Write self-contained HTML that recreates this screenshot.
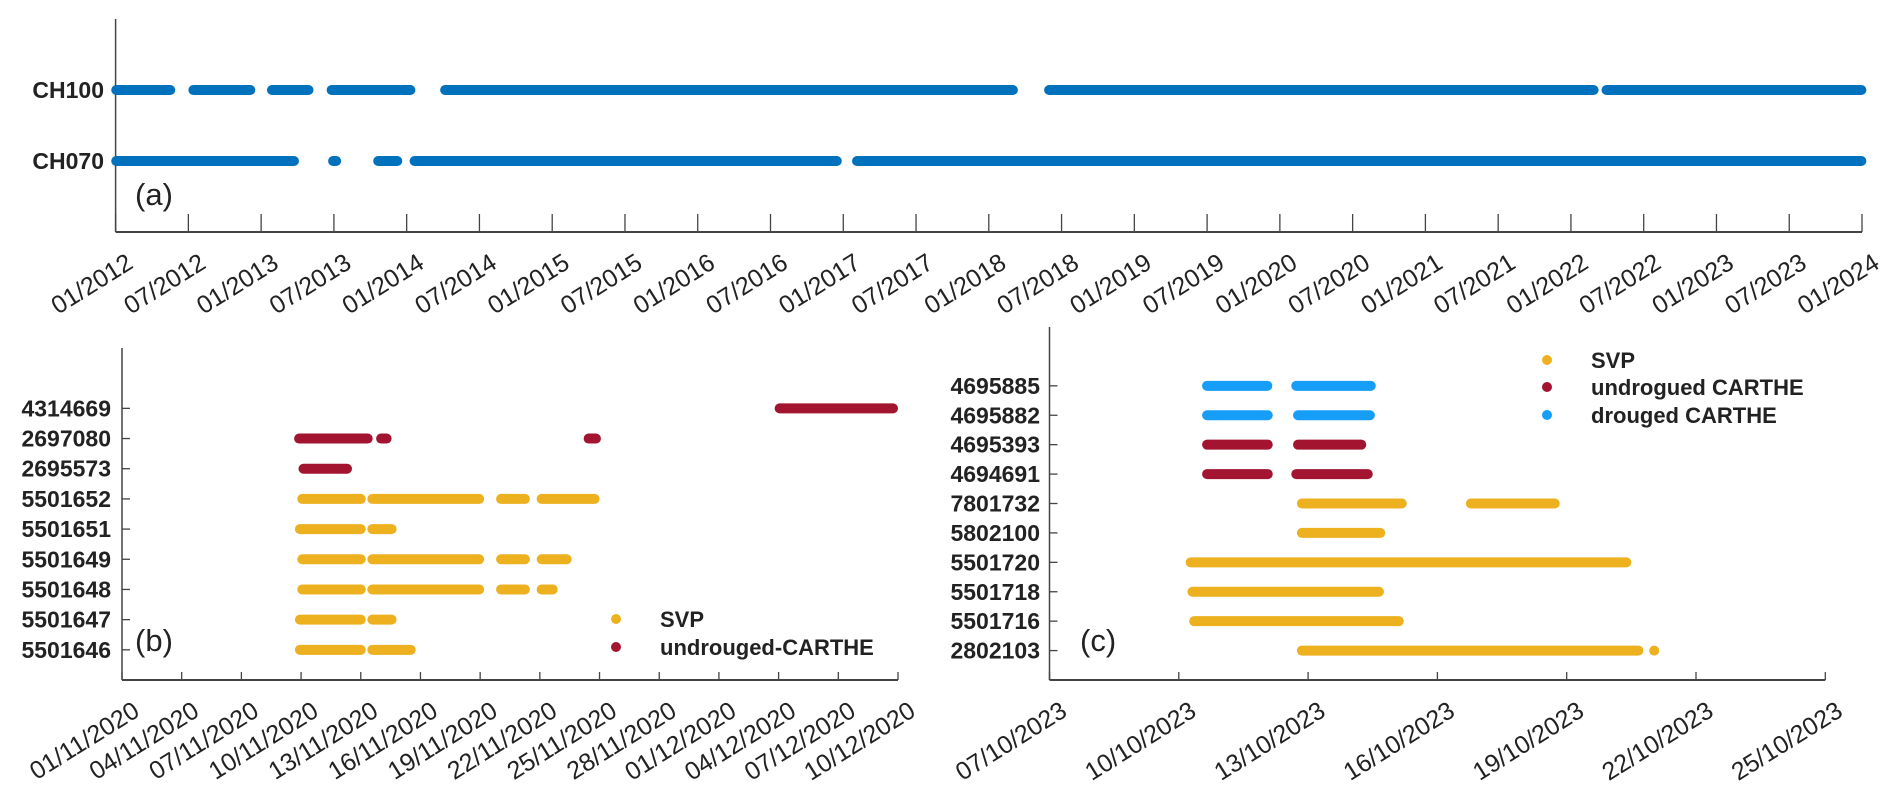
<!DOCTYPE html>
<html><head><meta charset="utf-8"><style>
html,body{margin:0;padding:0;background:#fff}
svg{display:block}
text{font-family:"Liberation Sans",Arial,sans-serif;fill:#222}
.yl{font-size:23px;font-weight:bold}
.tl{font-size:25px}
.lg{font-size:22px;font-weight:bold}
.pl{font-size:31px}
</style></head><body>
<svg id="fig" width="1892" height="812" viewBox="0 0 1892 812" xmlns="http://www.w3.org/2000/svg"></svg>
<script>
// ---- Panel (a) data (decimal years, segment extents) ----
const aRows = ["CH070","CH100"];
const aTicks = ["01/2012","07/2012","01/2013","07/2013","01/2014","07/2014","01/2015","07/2015","01/2016","07/2016","01/2017","07/2017","01/2018","07/2018","01/2019","07/2019","01/2020","07/2020","01/2021","07/2021","01/2022","07/2022","01/2023","07/2023","01/2024"];
const aCH100 = [[2011.97,2012.41],[2012.5,2012.96],[2013.04,2013.36],[2013.45,2014.06],[2014.23,2018.2],[2018.38,2022.19],[2022.21,2024.03]];
const aCH070 = [[2011.97,2013.26],[2013.46,2013.55],[2013.77,2013.97],[2014.02,2016.99],[2017.06,2024.03]];

// ---- Panel (b) data (days since 01/11/2020) ----
const bRows = ["5501646","5501647","5501648","5501649","5501651","5501652","2695573","2697080","4314669"];
const bTicks = ["01/11/2020","04/11/2020","07/11/2020","10/11/2020","13/11/2020","16/11/2020","19/11/2020","22/11/2020","25/11/2020","28/11/2020","01/12/2020","04/12/2020","07/12/2020","10/12/2020"];
const bType = ["svp","svp","svp","svp","svp","svp","und","und","und"];
const bSegs = [
 [[8.69,12.25],[12.33,14.76]],
 [[8.69,12.25],[12.33,13.8]],
 [[8.81,12.25],[12.33,18.2],[18.8,20.5],[20.84,21.9]],
 [[8.81,12.25],[12.33,18.2],[18.8,20.5],[20.84,22.6]],
 [[8.69,12.25],[12.33,13.8]],
 [[8.81,12.25],[12.33,18.2],[18.8,20.5],[20.84,24.0]],
 [[8.87,11.56]],
 [[8.65,12.6],[12.77,13.55],[23.2,24.07]],
 [[32.8,39.0]]
];

// ---- Panel (c) data (days since 07/10/2023) ----
const cRows = ["2802103","5501716","5501718","5501720","5802100","7801732","4694691","4695393","4695882","4695885"];
const cTicks = ["07/10/2023","10/10/2023","13/10/2023","16/10/2023","19/10/2023","22/10/2023","25/10/2023"];
const cType = ["svp","svp","svp","svp","svp","svp","und","und","dro","dro"];
const cSegs = [
 [[5.74,13.78],[13.93,14.13]],
 [[3.24,8.22]],
 [[3.2,7.76]],
 [[3.16,13.5]],
 [[5.74,7.79]],
 [[5.74,8.29],[9.66,11.84]],
 [[3.54,5.18],[5.61,7.5]],
 [[3.54,5.18],[5.65,7.35]],
 [[3.54,5.18],[5.65,7.55]],
 [[3.54,5.17],[5.61,7.57]]
];

const COL = {blue:"#0072BD", svp:"#EDB120", und:"#A2142F", dro:"#169DF7"};
const NS = "http://www.w3.org/2000/svg";
const svg = document.getElementById("fig");
function mk(tag, attrs, parent, txt){
  const e = document.createElementNS(NS, tag);
  for (const k in attrs) e.setAttribute(k, attrs[k]);
  if (txt !== undefined) e.textContent = txt;
  (parent||svg).appendChild(e);
  return e;
}
const AX = "#444";
function seg(g, x1, x2, y, col, w){
  const r = w/2;
  let a = x1 + r, b = x2 - r;
  if (b < a){ const m=(x1+x2)/2; a=m; b=m; }
  const l = mk("line",{x1:a,x2:b,y1:y,y2:y,stroke:col,"stroke-width":w,"stroke-linecap":"round"},g);
  
  
}
function tickLabel(g, x, y0, s){
  const t = mk("text",{class:"tl","text-anchor":"end",transform:`translate(${x+19},${y0+35}) rotate(-32)`},g,s);
  
  
}

// ===== Panel A =====
(function(){
  const g = mk("g",{});  
  const L=115.6,R=1862,T=19,B=232, y0=2012, y1=2024;
  const xs = v => L + (v-y0)/(y1-y0)*(R-L);
  const ys = {CH070:161, CH100:90};
  mk("line",{x1:L,x2:L,y1:T,y2:B,stroke:AX,"stroke-width":1.5},g);
  mk("line",{x1:L,x2:R,y1:B,y2:B,stroke:AX,"stroke-width":2},g);
  aTicks.forEach((s,i)=>{
    const x = xs(y0 + i*0.5);
    mk("line",{x1:x,x2:x,y1:B,y2:B-18,stroke:AX,"stroke-width":1.3},g);
    tickLabel(g,x,B,s);
  });
  aRows.forEach(r=>{
    const t = mk("text",{class:"yl","text-anchor":"end",x:104,y:ys[r]+8},g,r);
     
  });
  aCH100.forEach(s=>seg(g,xs(s[0]),xs(s[1]),ys.CH100,COL.blue,10));
  aCH070.forEach(s=>seg(g,xs(s[0]),xs(s[1]),ys.CH070,COL.blue,10));
  const pl = mk("text",{class:"pl",x:135,y:205},g,"(a)");
   
})();

// ===== Panel B =====
(function(){
  const g = mk("g",{});  
  const L=122,R=898,T=348,B=680, d1=39, nmax=11;
  const xs = d => L + d/d1*(R-L);
  const ys = i => B - i/nmax*(B-T);
  mk("line",{x1:L,x2:L,y1:T,y2:B,stroke:AX,"stroke-width":1.5},g);
  mk("line",{x1:L,x2:R,y1:B,y2:B,stroke:AX,"stroke-width":2},g);
  bTicks.forEach((s,i)=>{
    const x = xs(i*3);
    mk("line",{x1:x,x2:x,y1:B,y2:B-8,stroke:AX,"stroke-width":1.3},g);
    tickLabel(g,x,B,s);
  });
  bRows.forEach((r,i)=>{
    const y = ys(i+1);
    mk("line",{x1:L,x2:L+8,y1:y,y2:y,stroke:AX,"stroke-width":1.3},g);
    const t = mk("text",{class:"yl","text-anchor":"end",x:111,y:y+8},g,r);
     
    bSegs[i].forEach(s=>seg(g,xs(s[0]),xs(s[1]),y,COL[bType[i]],10));
  });
  const lg = mk("g",{},g);  
  mk("circle",{cx:616,cy:619,r:5,fill:COL.svp},lg);
  mk("text",{class:"lg",x:660,y:627},lg,"SVP");
  mk("circle",{cx:616,cy:647,r:5,fill:COL.und},lg);
  mk("text",{class:"lg",x:660,y:655},lg,"undrouged-CARTHE");
  const pl = mk("text",{class:"pl",x:135,y:651},g,"(b)");
   
})();

// ===== Panel C =====
(function(){
  const g = mk("g",{});  
  const L=1049.5,R=1825.3,T=327,B=680, d1=18, nmax=12;
  const xs = d => L + d/d1*(R-L);
  const ys = i => B - i/nmax*(B-T);
  mk("line",{x1:L,x2:L,y1:T,y2:B,stroke:AX,"stroke-width":1.5},g);
  mk("line",{x1:L,x2:R,y1:B,y2:B,stroke:AX,"stroke-width":2},g);
  cTicks.forEach((s,i)=>{
    const x = xs(i*3);
    mk("line",{x1:x,x2:x,y1:B,y2:B-8,stroke:AX,"stroke-width":1.3},g);
    tickLabel(g,x,B,s);
  });
  cRows.forEach((r,i)=>{
    const y = ys(i+1);
    mk("line",{x1:L,x2:L+8,y1:y,y2:y,stroke:AX,"stroke-width":1.3},g);
    const t = mk("text",{class:"yl","text-anchor":"end",x:1040,y:y+8},g,r);
     
    cSegs[i].forEach(s=>seg(g,xs(s[0]),xs(s[1]),y,COL[cType[i]],10));
  });
  const lg = mk("g",{},g);  
  mk("circle",{cx:1547,cy:360,r:5,fill:COL.svp},lg);
  mk("text",{class:"lg",x:1591,y:368},lg,"SVP");
  mk("circle",{cx:1547,cy:387,r:5,fill:COL.und},lg);
  mk("text",{class:"lg",x:1591,y:395},lg,"undrogued CARTHE");
  mk("circle",{cx:1547,cy:415,r:5,fill:COL.dro},lg);
  mk("text",{class:"lg",x:1591,y:423},lg,"drouged CARTHE");
  const pl = mk("text",{class:"pl",x:1080,y:651},g,"(c)");
   
})();
</script>
</body></html>
